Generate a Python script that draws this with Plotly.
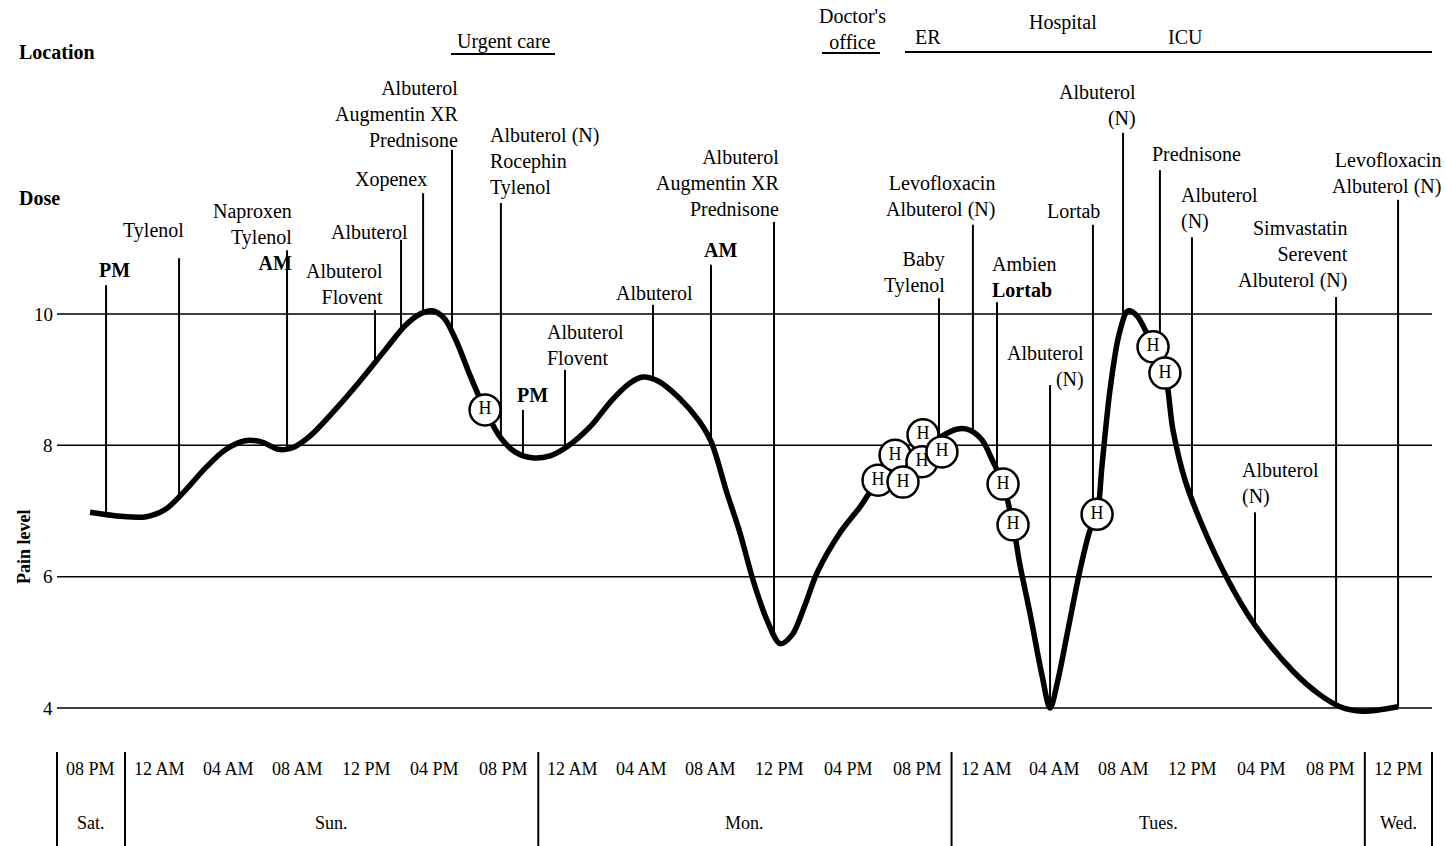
import numpy as np
import plotly.graph_objects as go

# ---------------- data (hours from Sunday 12 AM, pain level) ----------------
curve_hours = [-2.03, -0.29, 1.16, 2.32, 3.31, 4.65, 5.81, 6.97, 7.96, 8.89, 9.70, 10.74,
               12.20, 13.65, 15.10, 16.26, 17.13, 17.83, 18.52, 19.22, 20.03, 20.91, 21.78,
               22.65, 23.64, 24.68, 25.73, 27.00, 28.28, 29.33, 30.08, 30.95, 32.11, 33.28,
               34.03, 34.96, 35.71, 36.47, 37.28, 38.04, 38.73, 39.49, 40.19, 41.52, 42.68,
               43.73, 45.18, 46.46, 47.44, 48.37, 49.07, 49.77, 50.41, 50.99, 51.57, 51.97,
               52.55, 53.25, 53.72, 54.18, 54.76, 55.46, 56.04, 56.45, 56.74, 57.20, 57.72,
               58.25, 58.77, 59.70, 60.39, 60.86, 61.56, 62.43, 63.99, 65.62, 67.83, 69.40,
               70.56, 71.83, 73.93]
curve_pain = [6.98, 6.92, 6.91, 7.02, 7.26, 7.65, 7.93, 8.07, 8.05, 7.94, 7.96, 8.14,
              8.54, 8.98, 9.45, 9.82, 10.00, 10.05, 9.94, 9.60, 9.07, 8.54, 8.13,
              7.90, 7.81, 7.84, 7.99, 8.28, 8.69, 8.95, 9.04, 8.98, 8.74, 8.39,
              8.06, 7.27, 6.67, 5.95, 5.34, 4.98, 5.11, 5.57, 6.06, 6.67, 7.06,
              7.44, 7.62, 7.93, 8.14, 8.25, 8.23, 8.08, 7.75, 7.41, 6.79, 6.18,
              5.45, 4.50, 4.00, 4.43, 5.19, 6.10, 6.71, 6.95, 7.70, 8.84, 9.68,
              10.05, 9.97, 9.50, 9.10, 8.23, 7.47, 6.86, 5.98, 5.26, 4.56, 4.20,
              4.02, 3.95, 4.02]

dose_hours = [-1.10, 3.14, 9.41, 14.52, 16.03, 17.31, 18.99, 21.83, 23.11, 25.55, 30.66,
              34.03, 37.69, 47.27, 49.24, 50.64, 53.72, 56.21, 57.96, 60.10, 61.96, 65.62,
              70.33, 73.93]
dose_labels = ["<b>PM</b>", "Tylenol", "Naproxen<br>Tylenol<br><b>AM</b>",
               "Albuterol<br>Flovent", "Albuterol", "Xopenex",
               "Albuterol<br>Augmentin XR<br>Prednisone",
               "Albuterol (N)<br>Rocephin<br>Tylenol", "<b>PM</b>",
               "Albuterol<br>Flovent", "Albuterol", "<b>AM</b>",
               "Albuterol<br>Augmentin XR<br>Prednisone", "Baby<br>Tylenol",
               "Levofloxacin<br>Albuterol (N)", "Ambien<br><b>Lortab</b>",
               "Albuterol<br>(N)", "Lortab", "Albuterol<br>(N)", "Prednisone",
               "Albuterol<br>(N)", "Albuterol<br>(N)",
               "Simvastatin<br>Serevent<br>Albuterol (N)",
               "Levofloxacin<br>Albuterol (N)"]

hosp_hours = [20.91, 43.73, 44.72, 46.34, 46.28, 45.18, 47.44, 50.99, 51.57, 56.45, 59.70, 60.39]
hosp_pain = [8.54, 7.47, 7.85, 8.16, 7.75, 7.44, 7.90, 7.41, 6.79, 6.95, 9.50, 9.10]

pain_ticks = [4, 6, 8, 10]

time_labels = ["08 PM",
               "12 AM", "04 AM", "08 AM", "12 PM", "04 PM", "08 PM",
               "12 AM", "04 AM", "08 AM", "12 PM", "04 PM", "08 PM",
               "12 AM", "04 AM", "08 AM", "12 PM", "04 PM", "08 PM",
               "12 PM"]
time_label_hours = [-2.0, 2, 6, 10, 14, 18, 22, 26, 30, 34, 38, 42, 46,
                    50, 54, 58, 62, 66, 70, 73.95]
day_labels = ["Sat.", "Sun.", "Mon.", "Tues.", "Wed."]
day_bounds = [-3.95, 0, 24, 48, 72, 75.9]

location_labels = ["Urgent care", "Doctor's<br>office", "ER", "Hospital", "ICU"]

# ---------------- layout geometry (pixels) ----------------
W, H = 1446, 846
X0PX, PXH = 125.0, 17.22      # pixel of hour 0, pixels per hour
Y10PX, PXP = 314.0, 65.67     # pixel of pain 10, pixels per pain unit
xr = [(0 - X0PX) / PXH, (W - X0PX) / PXH]
yr = [10 - (H - Y10PX) / PXP, 10 + Y10PX / PXP]


def pxx(px):
    return px / W


def pxy(py):
    return 1 - py / H


FONT = "Liberation Serif"
LBL = 20

# stem tops (pain units) and label anchors (px x, px y, anchor)
stem_tops = [10.44, 10.85, 10.97, 10.06, 11.13, 11.84, 12.50, 11.69, 8.54, 9.15, 10.14,
             10.75, 11.40, 10.24, 11.36, 10.18, 8.92, 11.36, 12.76, 12.19, 11.17, 6.98,
             10.26, 11.74]
label_pos = [(115, 270, "center"), (153, 230, "center"), (294, 237, "right"),
             (385, 284, "right"), (369, 232, "center"), (391, 180, "center"),
             (460, 114, "right"), (488, 162, "left"), (532, 395, "center"),
             (545, 345, "left"), (654, 293, "center"), (720, 250, "center"),
             (781, 183, "right"), (947, 272, "right"), (997, 196, "right"),
             (990, 277, "left"), (1086, 366, "right"), (1073, 211, "center"),
             (1138, 105, "right"), (1150, 154, "left"), (1179, 208, "left"),
             (1240, 483, "left"), (1350, 254, "right"), (1443, 174, "right")]

fig = go.Figure()

# dose stems: from label down to the pain curve
stem_bottoms = np.interp(dose_hours, curve_hours, curve_pain)
sx, sy = [], []
for h, t, b in zip(dose_hours, stem_tops, stem_bottoms):
    sx += [h, h, None]
    sy += [t, b, None]
fig.add_trace(go.Scatter(x=sx, y=sy, mode="lines",
                         line=dict(color="black", width=2), hoverinfo="skip"))

# pain curve
fig.add_trace(go.Scatter(x=curve_hours, y=curve_pain, mode="lines",
                         line=dict(color="black", width=5.5, shape="spline", smoothing=0.9),
                         hoverinfo="skip"))

# "H" markers
for h, p in zip(hosp_hours, hosp_pain):
    fig.add_trace(go.Scatter(x=[h], y=[p], mode="markers+text", text=["H"],
                             textposition="middle center",
                             textfont=dict(family=FONT, size=18, color="black"),
                             marker=dict(symbol="circle", size=31, color="white",
                                         line=dict(color="black", width=2.5)),
                             hoverinfo="skip"))

shapes = []
annotations = []

# horizontal gridlines + tick labels
for t in pain_ticks:
    shapes.append(dict(type="line", xref="paper", yref="y", x0=pxx(57), x1=pxx(1432),
                       y0=t, y1=t, line=dict(color="black", width=1.5), layer="below"))
    annotations.append(dict(xref="paper", yref="y", x=pxx(55), y=t, text=str(t),
                            showarrow=False, xanchor="right", yanchor="middle",
                            font=dict(family=FONT, size=19, color="black")))

annotations.append(dict(xref="paper", yref="paper", x=pxx(12), y=pxy(547),
                        text="<b>Pain level</b>", textangle=-90, showarrow=False,
                        font=dict(family=FONT, size=18, color="black")))

# dose labels
for txt, (px, py, anc) in zip(dose_labels, label_pos):
    annotations.append(dict(xref="paper", yref="paper", x=pxx(px), y=pxy(py), text=txt,
                            showarrow=False, xanchor=anc, yanchor="middle", align=anc,
                            font=dict(family=FONT, size=LBL, color="black")))

# row headers
annotations.append(dict(xref="paper", yref="paper", x=pxx(17), y=pxy(52),
                        text="<b>Location</b>", showarrow=False, xanchor="left",
                        yanchor="middle", font=dict(family=FONT, size=20, color="black")))
annotations.append(dict(xref="paper", yref="paper", x=pxx(17), y=pxy(198),
                        text="<b>Dose</b>", showarrow=False, xanchor="left",
                        yanchor="middle", font=dict(family=FONT, size=20, color="black")))

# locations
loc_pos = [(504, 41), (852, 29), (928, 37), (1063, 22), (1185, 37)]
for txt, (px, py) in zip(location_labels, loc_pos):
    annotations.append(dict(xref="paper", yref="paper", x=pxx(px), y=pxy(py), text=txt,
                            showarrow=False, xanchor="center", yanchor="middle",
                            font=dict(family=FONT, size=LBL, color="black")))
for x0, x1, yy in [(451, 555, 54), (822, 880, 53), (905, 1432, 52)]:
    shapes.append(dict(type="line", xref="paper", yref="paper", x0=pxx(x0), x1=pxx(x1),
                       y0=pxy(yy), y1=pxy(yy), line=dict(color="black", width=2)))

# bottom time scale
for b in day_bounds:
    shapes.append(dict(type="line", xref="x", yref="paper", x0=b, x1=b,
                       y0=pxy(752), y1=pxy(846), line=dict(color="black", width=2)))
for txt, h in zip(time_labels, time_label_hours):
    annotations.append(dict(xref="x", yref="paper", x=h, y=pxy(769), text=txt,
                            showarrow=False, xanchor="center", yanchor="middle",
                            font=dict(family=FONT, size=18, color="black")))
for i, txt in enumerate(day_labels):
    annotations.append(dict(xref="x", yref="paper",
                            x=(day_bounds[i] + day_bounds[i + 1]) / 2, y=pxy(823),
                            text=txt, showarrow=False, xanchor="center", yanchor="middle",
                            font=dict(family=FONT, size=18, color="black")))

fig.update_layout(
    width=W, height=H, margin=dict(l=0, r=0, t=0, b=0),
    paper_bgcolor="white", plot_bgcolor="white", showlegend=False,
    xaxis=dict(range=xr, visible=False, fixedrange=True),
    yaxis=dict(range=yr, visible=False, fixedrange=True),
    shapes=shapes, annotations=annotations,
)

fig.write_html("out.html", post_script="document.body.style.margin='0';",
               config={"displayModeBar": False})
